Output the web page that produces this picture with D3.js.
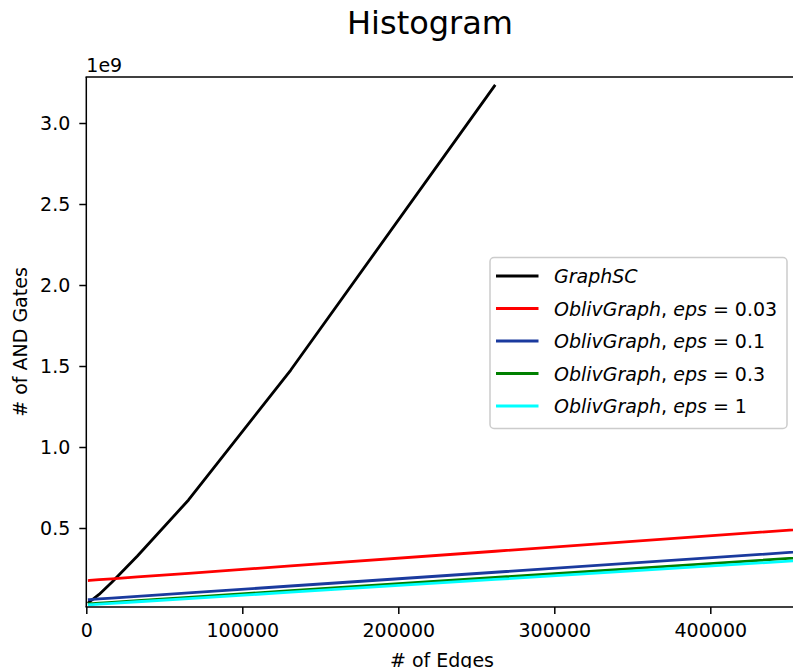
<!DOCTYPE html>
<html>
<head>
<meta charset="utf-8">
<script src="https://cdn.jsdelivr.net/npm/d3@7"></script>
<style>
  html, body { margin: 0; padding: 0; background: #fff; }
  svg { display: block; font-family: "DejaVu Sans", sans-serif; }
</style>
</head>
<body>
<svg id="chart" width="793" height="668"></svg>
<script>
// ---- data ----
const edges = [1024, 2048, 4096, 8192, 16384, 32768, 65536, 131072, 262144, 524288];
const graphSC = [0.036e9, 0.045e9, 0.06e9, 0.09e9, 0.165e9, 0.327e9, 0.673e9, 1.475e9, 3.235e9, null];
const oblivEps003 = [0.1757e9, 0.1764e9, 0.1778e9, 0.1807e9, 0.1863e9, 0.1977e9, 0.2204e9, 0.2657e9, 0.3564e9, 0.5378e9];
const oblivEps01 = [0.0577e9, 0.0583e9, 0.0597e9, 0.0623e9, 0.0676e9, 0.0782e9, 0.0995e9, 0.1419e9, 0.2269e9, 0.3967e9];
const oblivEps03 = [0.0316e9, 0.0323e9, 0.0336e9, 0.0361e9, 0.0412e9, 0.0514e9, 0.0719e9, 0.1128e9, 0.1946e9, 0.3582e9];
const oblivEps1 = [0.0256e9, 0.0262e9, 0.0275e9, 0.0299e9, 0.0348e9, 0.0447e9, 0.0643e9, 0.1036e9, 0.1823e9, 0.3396e9];
const xTicks = [0, 100000, 200000, 300000, 400000];
const yTicks = [0.5e9, 1.0e9, 1.5e9, 2.0e9, 2.5e9, 3.0e9];
const seriesNames = ["GraphSC", "0.03", "0.1", "0.3", "1"];
const seriesColors = ["#000000", "#ff0000", "#1a3a9e", "#008000", "#00ffff"];
const seriesData = [graphSC, oblivEps003, oblivEps01, oblivEps03, oblivEps1];

(function () {
// ---- layout ----
const mLeft = 86.3, mTop = 77, mBottom = 607, mRight = 799;
const svg = d3.select("#chart");

const x = d3.scaleLinear().domain([0, (mRight - mLeft) / 156 * 100000]).range([mLeft, mRight]);
const y = d3.scaleLinear().domain([0.01235e9, 3.284e9]).range([mBottom, mTop]);

svg.append("defs").append("clipPath").attr("id", "plotclip")
  .append("rect").attr("x", mLeft).attr("y", mTop).attr("width", mRight - mLeft).attr("height", mBottom - mTop);

// title
svg.append("text").attr("x", 430).attr("y", 33.5).attr("text-anchor", "middle")
  .attr("font-size", 32).attr("fill", "#000").text("Histogram");

// lines
const line = d3.line()
  .defined(d => d[1] !== null)
  .x(d => x(d[0])).y(d => y(d[1]));
const g = svg.append("g").attr("clip-path", "url(#plotclip)");
seriesData.forEach((s, i) => {
  g.append("path")
    .attr("d", line(edges.map((e, j) => [e, s[j]])))
    .attr("fill", "none")
    .attr("stroke", seriesColors[i])
    .attr("stroke-width", 2.8)
    .attr("stroke-linejoin", "round");
});

// axes
const xAxis = d3.axisBottom(x).tickValues(xTicks).tickFormat(d3.format("d")).tickSize(7).tickPadding(10);
const yAxis = d3.axisLeft(y).tickValues(yTicks).tickFormat(v => (v / 1e9).toFixed(1)).tickSize(7).tickPadding(9);

const gx = svg.append("g").attr("transform", `translate(0,${mBottom})`).call(xAxis);
const gy = svg.append("g").attr("transform", `translate(${mLeft},0)`).call(yAxis);
[gx, gy].forEach(a => {
  a.select(".domain").remove();
  a.selectAll(".tick line").attr("stroke", "#000").attr("stroke-width", 1.5);
  a.selectAll(".tick text").attr("font-size", 19).attr("font-family", "DejaVu Sans").attr("fill", "#000");
});

// spines
svg.append("line").attr("x1", mLeft).attr("x2", mLeft).attr("y1", mTop).attr("y2", mBottom).attr("stroke", "#000").attr("stroke-width", 1.5);
svg.append("line").attr("x1", mLeft - 0.75).attr("x2", mRight).attr("y1", mBottom).attr("y2", mBottom).attr("stroke", "#000").attr("stroke-width", 1.5);
svg.append("line").attr("x1", mLeft - 0.75).attr("x2", mRight).attr("y1", mTop).attr("y2", mTop).attr("stroke", "#000").attr("stroke-width", 1.5);

// offset text
svg.append("text").attr("x", mLeft).attr("y", 71.5).attr("font-size", 19).attr("fill", "#000").text("1e9");

// axis labels
svg.append("text").attr("x", 442).attr("y", 667).attr("text-anchor", "middle").attr("font-size", 19).attr("fill", "#000").text("# of Edges");
svg.append("text").attr("transform", "translate(27,342) rotate(-90)").attr("text-anchor", "middle").attr("font-size", 19).attr("fill", "#000").text("# of AND Gates");

// legend
const lg = svg.append("g");
lg.append("rect").attr("x", 490).attr("y", 257.5).attr("width", 297).attr("height", 171).attr("rx", 4)
  .attr("fill", "#fff").attr("fill-opacity", 0.8).attr("stroke", "#cccccc").attr("stroke-width", 1.5);
const rowY = [276, 308.5, 341, 373.5, 406];
seriesNames.forEach((name, i) => {
  lg.append("line").attr("x1", 496).attr("x2", 538.5).attr("y1", rowY[i]).attr("y2", rowY[i])
    .attr("stroke", seriesColors[i]).attr("stroke-width", 2.8);
  const t = lg.append("text").attr("x", 554).attr("y", rowY[i] + 7).attr("font-size", 19).attr("fill", "#000");
  if (i === 0) {
    t.append("tspan").attr("font-style", "italic").text(name);
  } else {
    t.append("tspan").attr("font-style", "italic").text("OblivGraph");
    t.append("tspan").text(", ");
    t.append("tspan").attr("font-style", "italic").text("eps");
    t.append("tspan").text(" = " + name);
  }
});
})();
</script>
</body>
</html>
